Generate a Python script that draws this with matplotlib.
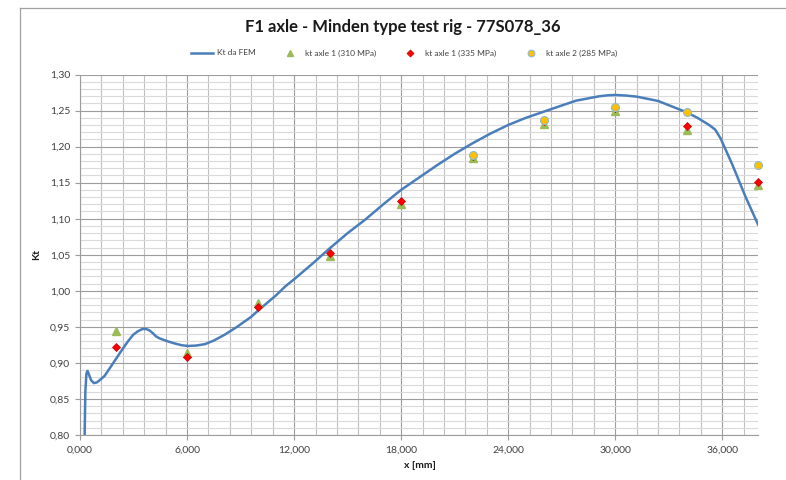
import matplotlib
matplotlib.use("Agg")
import matplotlib.pyplot as plt
from matplotlib.lines import Line2D
from matplotlib.ticker import MultipleLocator, FuncFormatter

# FEM stress concentration factor along the axle (x in thousands of mm units as labelled)
fem_x = [0.26, 0.30, 0.36, 0.42, 0.50, 0.62, 0.78, 0.95, 1.15, 1.38, 1.65, 2.03,
         2.35, 2.69, 2.98, 3.25, 3.50, 3.71, 3.90, 4.09, 4.25, 4.46, 4.90, 5.30,
         5.70, 6.05, 6.50, 7.00, 7.50, 8.10, 8.80, 9.60, 10.0, 11.0, 11.5, 12.0,
         13.0, 14.0, 15.0, 16.0, 17.0, 18.0, 19.0, 20.0, 21.0, 22.0, 23.0, 24.0,
         25.0, 26.0, 27.0, 27.8, 28.5, 29.1, 29.6, 30.0, 30.6, 31.2, 32.4, 34.0,
         34.6, 35.26, 35.6, 35.9, 36.2, 36.57, 37.3, 38.0]
fem_kt = [0.800, 0.860, 0.885, 0.889, 0.884, 0.876, 0.872, 0.873, 0.877, 0.882,
          0.892, 0.906, 0.918, 0.930, 0.939, 0.944, 0.947, 0.947, 0.945, 0.941,
          0.937, 0.934, 0.930, 0.927, 0.9245, 0.9235, 0.924, 0.926, 0.931, 0.939,
          0.950, 0.964, 0.973, 0.994, 1.006, 1.016, 1.037, 1.059, 1.080, 1.099,
          1.120, 1.140, 1.157, 1.174, 1.190, 1.2046, 1.218, 1.230, 1.240, 1.2485,
          1.257, 1.2637, 1.267, 1.2698, 1.2712, 1.2716, 1.2708, 1.2693, 1.2633,
          1.2476, 1.240, 1.230, 1.2236, 1.2115, 1.195, 1.1745, 1.1305, 1.092]

# Measured values at the strain-gauge positions
pos_x = [2, 6, 10, 14, 18, 22, 26, 30, 34, 38]
kt_310 = [0.944, 0.914, 0.983, 1.048, 1.120, 1.184, 1.232, 1.250, 1.223, 1.147]
kt_335 = [0.922, 0.908, 0.977, 1.053, 1.125, 1.187, 1.235, 1.254, 1.228, 1.151]
kt_285 = [None, None, None, None, None, 1.188, 1.2365, 1.255, 1.2484, 1.1745]

title = "F1 axle - Minden type test rig - 77S078_36"

plt.rcParams["font.family"] = ["Lato", "DejaVu Sans"]

W, H = 786, 480
fig = plt.figure(figsize=(W / 100, H / 100), dpi=100)
ax = fig.add_axes([80 / W, 1 - 435 / H, (758 - 80) / W, (435 - 74.5) / H])

ax.set_xlim(0, 38)
ax.set_ylim(0.80, 1.30)
ax.xaxis.set_major_locator(MultipleLocator(6))
ax.xaxis.set_minor_locator(MultipleLocator(1.2))
ax.yaxis.set_major_locator(MultipleLocator(0.05))
ax.yaxis.set_minor_locator(MultipleLocator(0.01))
ax.xaxis.set_major_formatter(FuncFormatter(lambda v, p: f"{v:.3f}".replace(".", ",")))
ax.yaxis.set_major_formatter(FuncFormatter(lambda v, p: f"{v:.2f}".replace(".", ",")))

ax.grid(which="minor", axis="x", color="#c0c0c0", lw=0.8)
ax.grid(which="minor", axis="y", color="#dadada", lw=0.8)
ax.grid(which="major", color="#9c9c9c", lw=0.8)
ax.set_axisbelow(True)

for s in ("top", "right"):
    ax.spines[s].set_visible(False)
for s in ("left", "bottom"):
    ax.spines[s].set_color("#9c9c9c")
    ax.spines[s].set_linewidth(0.8)

ax.tick_params(which="minor", length=0)
ax.tick_params(which="major", length=3.5, width=0.8, color="#9c9c9c",
               labelsize=7.5, labelcolor="#404040")
ax.tick_params(axis="x", pad=4)

ax.plot(fem_x, fem_kt, color="#4a7ebb", lw=1.8, label="Kt da FEM", zorder=3)
ax.plot(pos_x, kt_310, ls="none", marker="^", ms=5.8, color="#9bbb59",
        mec="#9bbb59", label="kt axle 1 (310 MPa)", clip_on=False, zorder=4)
ax.plot(pos_x, kt_335, ls="none", marker="D", ms=4.2, color="#ff0000",
        mec="#c00000", mew=0.5, label="kt axle 1 (335 MPa)", clip_on=False, zorder=5)
y285 = [float("nan") if v is None else v for v in kt_285]
ax.plot(pos_x, y285, ls="none", marker="o", ms=5.7, color="#ffc000",
        mec="#8fbcd0", mew=0.8, label="kt axle 2 (285 MPa)", clip_on=False, zorder=6)

fig.legend(loc="center", bbox_to_anchor=(404 / W, 1 - 53 / H), ncol=4,
           frameon=False, fontsize=6, handlelength=2.6, columnspacing=2.8,
           handletextpad=0.5, labelcolor="#404040", markerscale=0.85)

fig.text(403 / W, 1 - 27 / H, title, ha="center", va="center",
         fontsize=12, fontweight="bold", color="#1a1a1a")
fig.text(420 / W, 1 - 466 / H, "x [mm]", ha="center", va="center",
         fontsize=7.5, fontweight="bold", color="#1a1a1a")
fig.text(37 / W, 1 - 255 / H, "Kt", ha="center", va="center", rotation=90,
         fontsize=7.5, fontweight="bold", color="#1a1a1a")

# chart frame
fig.add_artist(Line2D([20 / W, 1], [1 - 8 / H, 1 - 8 / H], color="#a0a0a0",
                      lw=0.9, transform=fig.transFigure))
fig.add_artist(Line2D([20 / W, 20 / W], [0, 1 - 8 / H], color="#a0a0a0",
                      lw=0.9, transform=fig.transFigure))

fig.savefig("out.png", dpi=100, facecolor="white")
